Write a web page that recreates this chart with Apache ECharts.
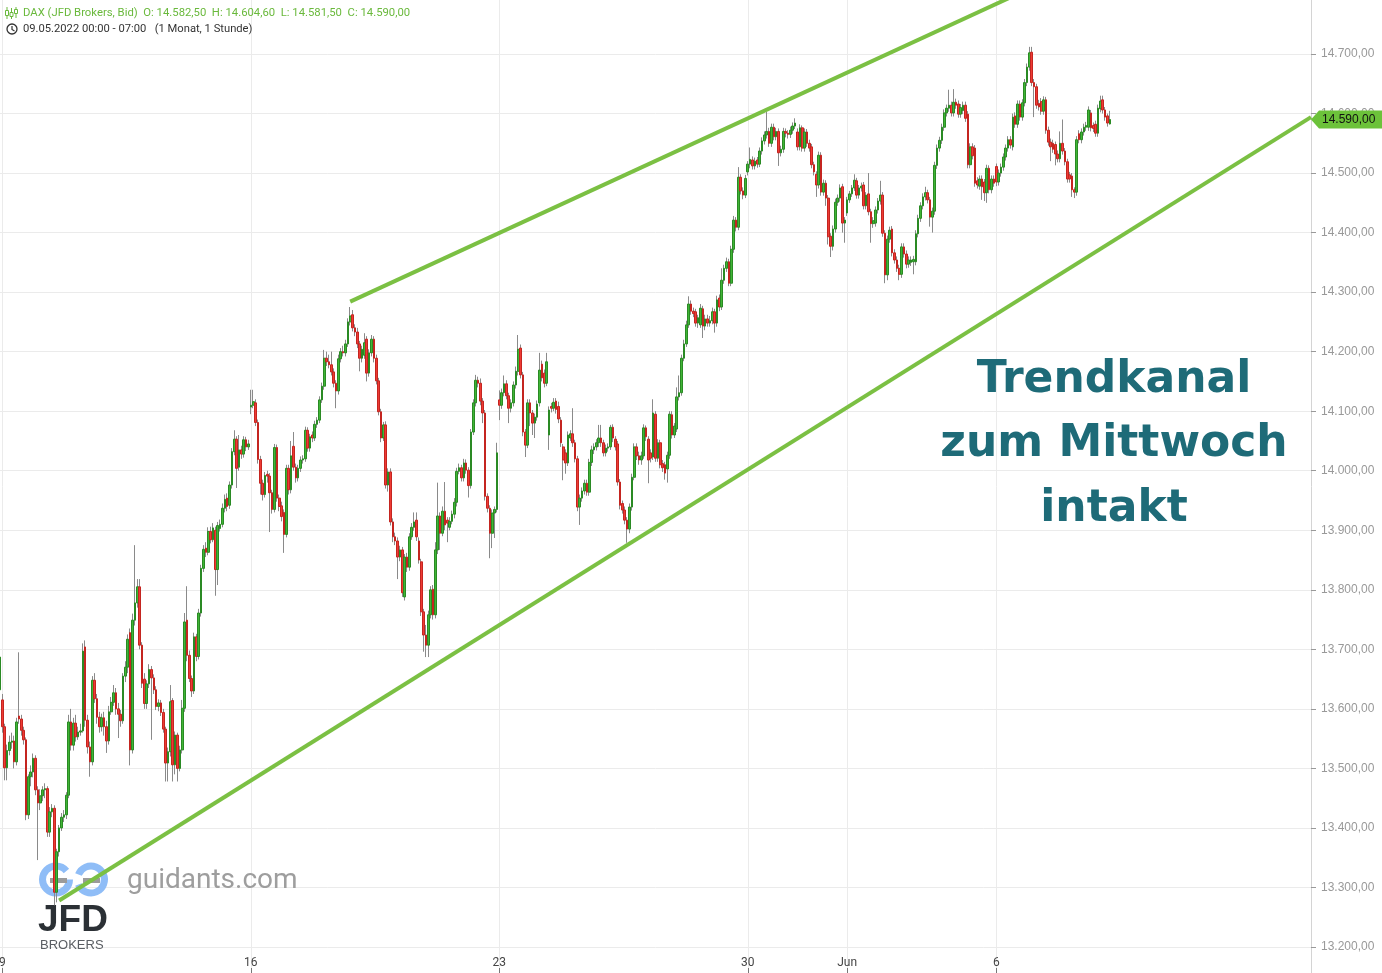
<!DOCTYPE html>
<html><head><meta charset="utf-8">
<script src="https://cdn.jsdelivr.net/npm/echarts@6/dist/echarts.min.js"></script>
<style>html,body{margin:0;padding:0;background:#fff}#c{width:1382px;height:973px}</style>
</head><body><div id="c"></div>
<script>
// ---- DATA: hourly candles [open, close, low, high] ----
// last Friday bar + week of 9 May
const wk0 = [
[13632,13687,13625,13700],[13615,13570,13560,13625],[13570,13501,13480,13575],[13501,13530,13480,13540],[13530,13544,13522,13555],
[13544,13546,13533,13560],[13546,13511,13500,13555],[13511,13578,13505,13585],[13588,13583,13575,13695],[13583,13564,13555,13590],
[13564,13548,13540,13570],[13548,13422,13413,13552],[13422,13486,13415,13490],[13486,13494,13470,13505],[13494,13517,13485,13525],
[13517,13464,13455,13522],[13464,13442,13346,13470],[13442,13454,13430,13465],[13454,13464,13445,13470],[13464,13466,13450,13475],
[13466,13393,13385,13470],[13393,13427,13385,13435],[13427,13433,13418,13440],[13433,13292,13270,13438],[13292,13360,13275,13365],
[13360,13400,13352,13405],[13400,13418,13395,13425],[13418,13422,13410,13430],[13422,13455,13415,13460],[13455,13578,13450,13590],
[13578,13539,13530,13600],[13539,13576,13530,13585],[13576,13553,13545,13590],[13553,13561,13548,13570],[13561,13563,13555,13575],
[13563,13697,13560,13710],[13704,13581,13570,13715],[13581,13536,13525,13590],[13536,13511,13486,13545],[13511,13648,13505,13655],
[13648,13617,13610,13660],[13617,13586,13575,13625],[13586,13570,13560,13595],[13570,13585,13562,13592],[13585,13570,13555,13595],
[13570,13546,13526,13580],[13546,13595,13540,13605],[13595,13611,13590,13620],[13611,13627,13605,13640],[13627,13600,13590,13635],
[13600,13591,13551,13610],[13591,13580,13570,13598],[13580,13655,13575,13660],[13655,13670,13645,13680],[13670,13717,13660,13725],
[13728,13531,13505,13735],[13531,13749,13525,13760],[13749,13778,13740,13875],[13778,13805,13770,13818],
[13805,13707,13700,13818],[13707,13643,13635,13712],[13650,13609,13600,13660],[13609,13642,13600,13648],[13642,13666,13635,13675],
[13666,13652,13548,13672],[13652,13632,13625,13658],[13632,13604,13598,13638],[13604,13610,13596,13616],[13610,13594,13588,13615],
[13594,13566,13560,13600],[13566,13509,13478,13570],[13509,13528,13478,13535],[13528,13612,13520,13640],[13614,13506,13478,13618],
[13506,13556,13490,13562],[13556,13500,13478,13560],[13500,13531,13495,13538],[13531,13601,13525,13615],[13601,13746,13595,13761],
[13749,13690,13680,13806],[13690,13651,13645,13698],[13651,13630,13620,13656],[13630,13721,13625,13728],[13721,13688,13680,13726],
[13688,13761,13683,13768],[13761,13836,13755,13842],[13836,13868,13830,13875],[13870,13863,13855,13880],[13863,13898,13858,13905],
[13898,13884,13878,13906],[13884,13904,13880,13912],[13900,13834,13790,13906],[13834,13908,13808,13914],[13903,13910,13898,13918],
[13910,13937,13905,13945],[13937,13952,13930,13960],[13954,13940,13932,13962],[13942,13976,13936,13982],[13976,14032,13970,14038],
[14032,14053,14026,14068],[14053,14004,13971,14058],[14006,14035,14000,14060],[14035,14028,14020,14042],[14028,14052,14022,14058],
[14052,14040,14033,14057],[14040,14045,14035,14052]
];
// week of 16 May
const wk1 = [
[14107,14110,14095,14136],[14110,14116,14105,14136],[14114,14081,14075,14120],[14081,14019,14012,14086],[14019,13979,13960,14025],
[13979,13960,13950,13985],[13960,13992,13955,13998],[13994,13991,13980,14000],[13991,13963,13897,13996],[13963,13935,13928,13968],
[13935,14039,13930,14045],[14039,13954,13948,14044],[13954,13940,13932,13960],[13941,13923,13915,13948],[13930,13893,13862,13935],
[13893,14004,13888,14010],[14004,13968,13960,14010],[13968,14025,13962,14050],[14041,14006,14000,14065],[14006,13988,13980,14012],
[13988,14004,13982,14010],[14004,14018,13998,14024],[14018,14020,14012,14026],[14020,14068,14015,14074],[14068,14038,14032,14073],
[14038,14057,14032,14062],[14060,14055,14048,14066],[14055,14078,14050,14084],[14078,14085,14072,14090],[14085,14119,14080,14125],
[14119,14142,14114,14148],[14142,14189,14136,14203],[14189,14183,14176,14200],[14183,14178,14172,14195],[14178,14166,14160,14200],
[14166,14147,14140,14172],[14147,14134,14105,14152],[14134,14188,14128,14195],[14188,14200,14182,14206],[14200,14198,14192,14210],
[14198,14213,14192,14220],[14213,14250,14208,14256],[14250,14260,14244,14275],[14262,14240,14234,14270],[14240,14233,14226,14246],
[14233,14213,14206,14240],[14213,14189,14167,14218],[14189,14204,14182,14210],[14194,14215,14188,14231],[14221,14164,14150,14226],
[14164,14198,14158,14204],[14198,14221,14192,14228],[14221,14189,14182,14226],[14189,14151,14145,14195],[14151,14099,14093,14156],
[14099,14055,14048,14104],[14055,14077,14050,14082],[14077,13976,13970,14083],[13976,13998,13965,14004],[13998,13914,13908,14004],
[13914,13889,13880,13920],[13889,13882,13875,13896],[13882,13855,13818,13888],[13855,13867,13848,13874],[13867,13795,13788,13872],
[13788,13855,13782,13860],[13855,13838,13830,13862],[13838,13889,13832,13895],[13889,13905,13884,13912],[13905,13914,13899,13930],
[13917,13889,13882,13930],[13882,13850,13844,13888],[13847,13763,13756,13852],[13763,13724,13696,13768],[13724,13707,13687,13741],
[13707,13758,13687,13765],[13758,13800,13752,13806],[13801,13758,13750,13808],[13758,13867,13752,13880],[13867,13924,13860,13980],
[13924,13895,13867,13930],[13895,13932,13890,13940],[13932,13909,13900,13981],[13917,13912,13880,13922],[13905,13915,13900,13922],
[13915,13927,13910,13933],[13927,13947,13920,13954],[13947,13999,13940,14005],[13999,14005,13994,14012],[14005,13988,13982,14010],
[13988,14013,13982,14020],[14013,14001,13995,14019],[14001,13975,13955,14006],[13975,14065,13970,14070],[14065,14114,14060,14120],
[14114,14152,14108,14161],[14152,14147,14140,14158],[14147,14117,14110,14155],[14117,14097,14080,14122],[14097,13957,13950,14102],
[13957,13937,13930,13962],[13937,13895,13853,13942],[13895,13929,13870,13935],[13929,13935,13887,13940],[13935,14030,13930,14047]
];
// week of 23 May
const wk2 = [
[14119,14110,14085,14135],[14110,14131,14104,14138],[14131,14146,14125,14160],[14146,14126,14120,14152],[14126,14105,14080,14131],
[14105,14114,14098,14120],[14114,14144,14108,14150],[14144,14167,14138,14175],[14167,14204,14160,14228],[14206,14161,14155,14212],
[14161,14065,14058,14166],[14065,14043,14023,14070],[14043,14114,14038,14120],[14114,14097,14075,14120],[14097,14080,14060,14102],
[14080,14090,14055,14096],[14090,14112,14084,14118],[14114,14169,14108,14198],[14179,14156,14150,14185],[14164,14147,14140,14170],
[14147,14183,14142,14198],
[14060,14102,14035,14108],[14108,14105,14098,14114],[14105,14115,14100,14122],[14117,14103,14096,14122],[14108,14087,14080,14116],
[14085,14047,14040,14090],[14040,14018,13984,14045],[14030,14013,13995,14036],[14013,14060,14008,14066],[14055,14062,14050,14068],
[14062,14047,14040,14105],[14047,14020,14014,14052],[14020,13939,13932,14025],[13939,13954,13909,13960],[13954,13966,13948,13972],
[13966,13979,13960,13985],[13979,13964,13958,13985],[13964,14014,13958,14020],[14014,14035,14008,14042],[14035,14040,14028,14046],
[14040,14047,14034,14053],
[14047,14055,14040,14077],[14055,14047,14040,14077],[14047,14030,14024,14052],[14030,14038,14024,14044],[14038,14040,14032,14046],
[14040,14073,14035,14077],[14073,14055,14048,14078],[14053,14040,14034,14058],[14045,13981,13975,14050],[13981,13942,13935,13986],
[13945,13934,13928,13950],[13934,13917,13910,13940],[13917,13902,13879,13922],[13902,13939,13895,13945],[13939,13989,13933,13995],
[13989,14040,13984,14046],[14040,14025,14018,14046],[14025,14018,14010,14032],[14018,14025,14010,14032],[14025,14072,14020,14078],
[14072,14057,14050,14076],
[14053,14018,13979,14058],[14030,14021,14014,14036],[14023,14097,14018,14120],[14095,14021,14015,14100],[14021,14047,14015,14053],
[14047,14010,14004,14052],[14012,14005,13998,14018],[14010,13996,13985,14015],[14003,14026,13980,14032],[14026,14095,14020,14100],
[14094,14060,14054,14100],[14060,14075,14055,14080],[14070,14124,14065,14140],[14124,14131,14118,14160],[14131,14189,14126,14195],
[14189,14213,14184,14220],[14213,14245,14208,14252],[14245,14280,14240,14293],[14280,14268,14262,14286],[14268,14264,14258,14274],
[14267,14248,14242,14272],
[14248,14257,14240,14262],[14245,14273,14240,14280],[14272,14243,14223,14277],[14243,14255,14236,14262],[14255,14248,14242,14262],
[14248,14252,14242,14260],[14252,14267,14246,14274],[14267,14248,14232,14272],[14248,14287,14242,14294],[14290,14275,14268,14296],
[14275,14320,14270,14340],[14320,14340,14314,14346],[14340,14351,14334,14358],[14351,14315,14310,14356],[14315,14372,14310,14378],
[14372,14421,14366,14428],[14421,14409,14402,14426],[14409,14493,14404,14510],[14493,14470,14464,14498],[14470,14463,14456,14476],
[14463,14491,14458,14497]
];
// week of 30 May
const wk3 = [
[14502,14515,14496,14520],[14515,14523,14508,14543],[14522,14512,14506,14528],[14512,14520,14506,14526],[14522,14515,14509,14527],
[14515,14537,14510,14543],[14537,14554,14531,14560],[14554,14564,14548,14570],[14564,14570,14558,14603],[14570,14550,14544,14576],
[14550,14577,14544,14583],[14577,14561,14555,14583],[14561,14570,14555,14576],[14570,14534,14512,14575],[14534,14540,14528,14546],
[14540,14570,14534,14576],[14570,14567,14560,14575],[14567,14565,14558,14572],[14565,14572,14559,14578],[14572,14579,14566,14585],
[14579,14584,14574,14592],
[14569,14544,14538,14575],[14544,14576,14538,14582],[14576,14542,14536,14580],[14542,14569,14536,14575],[14569,14550,14544,14574],
[14550,14542,14536,14556],[14544,14514,14508,14549],[14514,14502,14496,14519],[14498,14480,14460,14503],[14480,14530,14474,14536],
[14530,14468,14462,14535],[14468,14483,14462,14489],[14483,14458,14445,14488],[14458,14393,14380,14463],[14394,14377,14359,14399],
[14377,14406,14370,14412],[14406,14451,14400,14457],[14451,14458,14445,14464],[14458,14475,14452,14481],[14477,14416,14400,14482],
[14416,14421,14383,14426],
[14433,14455,14428,14460],[14455,14465,14450,14470],[14465,14475,14460,14480],[14475,14488,14470,14498],[14487,14463,14457,14492],
[14463,14475,14457,14480],[14475,14478,14469,14484],[14480,14445,14439,14485],[14445,14463,14439,14468],[14465,14435,14429,14500],
[14435,14415,14383,14440],[14415,14420,14408,14426],[14416,14438,14410,14444],[14438,14453,14432,14458],[14453,14463,14447,14487],
[14463,14399,14393,14468],[14399,14329,14315,14404],[14329,14389,14320,14395],[14389,14404,14383,14410],[14406,14366,14360,14411],
[14366,14354,14348,14372],
[14354,14340,14334,14360],[14340,14330,14320,14346],[14330,14376,14324,14382],[14376,14364,14358,14382],[14364,14347,14340,14370],
[14347,14354,14341,14360],[14350,14354,14344,14360],[14351,14355,14330,14361],[14351,14398,14345,14404],[14398,14424,14392,14430],
[14424,14445,14418,14451],[14445,14460,14439,14466],[14460,14467,14454,14477],[14467,14455,14449,14472],[14455,14426,14410,14460],
[14426,14436,14400,14442],[14436,14513,14430,14519],[14513,14542,14507,14548],[14542,14555,14536,14561],[14555,14577,14549,14583],
[14577,14601,14571,14607],
[14601,14609,14595,14615],[14609,14614,14603,14640],[14614,14601,14595,14620],[14601,14619,14595,14641],[14619,14614,14608,14625],
[14616,14599,14593,14622],[14599,14610,14593,14616],[14605,14614,14599,14620],[14614,14592,14586,14620],[14599,14514,14508,14604],
[14514,14544,14508,14550],[14544,14529,14523,14550],[14542,14483,14477,14547],[14487,14480,14474,14493],[14478,14490,14472,14496],
[14490,14477,14455,14496],[14485,14467,14453,14490],[14467,14508,14450,14514],[14508,14472,14466,14513],[14472,14490,14466,14496],
[14490,14483,14477,14496]
];
// 6 - 8 June
const wk4 = [
[14511,14485,14478,14516],[14485,14500,14479,14506],[14500,14510,14494,14516],[14510,14527,14504,14533],[14527,14542,14521,14548],
[14542,14556,14536,14562],[14556,14547,14541,14562],[14544,14594,14538,14600],[14596,14582,14576,14602],[14582,14616,14576,14622],
[14616,14594,14588,14622],[14594,14618,14588,14624],[14618,14652,14612,14658],[14652,14678,14646,14684],[14678,14702,14672,14712],
[14703,14652,14646,14712],[14652,14645,14594,14658],[14645,14614,14608,14650],[14617,14611,14605,14623],[14620,14604,14598,14626],
[14604,14623,14598,14629],
[14623,14572,14566,14628],[14572,14552,14546,14578],[14552,14544,14520,14558],[14550,14540,14534,14556],[14548,14532,14513,14553],
[14532,14524,14518,14538],[14524,14550,14518,14570],[14550,14537,14531,14590],[14537,14519,14513,14542],[14519,14490,14484,14524],
[14497,14490,14484,14502],[14495,14472,14460,14500],[14472,14468,14458,14476],[14468,14556,14462,14562],[14566,14556,14550,14572],
[14556,14569,14550,14575],[14569,14577,14563,14583],[14577,14580,14571,14586],[14577,14606,14571,14612],[14601,14576,14570,14606],
[14580,14575,14569,14585],
[14582,14567,14561,14588],[14567,14609,14561,14615],[14608,14621,14602,14630],[14623,14606,14600,14630],[14606,14594,14588,14611],
[14596,14584,14578,14600],[14582.5,14590,14581.5,14604.6]
];
const dayTickIndex = [1, 106, 211, 316, 358, 421];
const dayTickLabels = ['9', '16', '23', '30', 'Jun', '6'];
const upperTrend = [[148, 14284], [440, 14819]];
const lowerTrend = [[25, 13278], [554, 14594]];
const lastPrice = 14590;
const lastPriceText = '14.590,00';
const headerLine1 = 'DAX (JFD Brokers, Bid)  O: 14.582,50  H: 14.604,60  L: 14.581,50  C: 14.590,00';
const headerLine2 = '09.05.2022 00:00 - 07:00   (1 Monat, 1 Stunde)';
const noteLines = ['Trendkanal', 'zum Mittwoch', 'intakt'];
const SLOTS = 555;

// ---- build ----
const candles = wk0.concat(wk1, wk2, wk3, wk4);
const bodies = candles.map(d => [d[0], d[1], Math.min(d[0], d[1]), Math.max(d[0], d[1])]);
const cats = []; for (let i = 0; i < SLOTS; i++) cats.push('c' + i);
const labelAt = {}; dayTickIndex.forEach((k, j) => labelAt[k] = dayTickLabels[j]);
const isTick = i => labelAt[i] !== undefined;
const fmtDE = v => { const s = String(Math.round(v)); return s.slice(0, -3) + '.' + s.slice(-3) + ',00'; };

const chart = echarts.init(document.getElementById('c'), null, {renderer: 'canvas'});
chart.setOption({
  animation: false,
  backgroundColor: '#ffffff',
  grid: {left: 0, right: 71, top: -5.53, bottom: -33.53, outerBoundsMode: 'none', containLabel: false},
  xAxis: {
    type: 'category', data: cats, boundaryGap: false, offset: -33.53,
    axisLine: {show: false},
    axisTick: {show: true, inside: true, length: 5, interval: (i) => isTick(i), lineStyle: {color: '#777'}},
    axisLabel: {show: true, inside: true, margin: 4, interval: (i) => isTick(i),
      formatter: (v, i) => labelAt[i] || '', color: '#444', fontSize: 12, fontFamily: 'Roboto'},
    splitLine: {show: true, interval: (i) => isTick(i), lineStyle: {color: '#ebebeb', width: 1}}
  },
  yAxis: {
    type: 'value', position: 'right', min: 13100, max: 14800, interval: 100,
    axisLine: {show: true, lineStyle: {color: '#d4d4d4'}},
    axisTick: {show: true, length: 5, lineStyle: {color: '#999'}},
    axisLabel: {margin: 10, color: '#999', fontSize: 12, fontFamily: 'Liberation Sans', formatter: fmtDE},
    splitLine: {show: true, lineStyle: {color: '#ebebeb', width: 1}}
  },
  series: [
    {type: 'candlestick', data: candles, barWidth: 1, z: 2, silent: true, large: false,
     itemStyle: {color: '#8a8a8a', color0: '#8a8a8a', borderColor: '#8a8a8a', borderColor0: '#8a8a8a', borderColorDoji: '#8a8a8a', borderWidth: 1}},
    {type: 'candlestick', data: bodies, barWidth: 2.1, z: 3, silent: true, large: false,
     itemStyle: {color: '#40b536', color0: '#ee3b34', borderColor: '#2a8a24', borderColor0: '#c42520', borderColorDoji: '#2a8a24', borderWidth: 1}},
    {type: 'line', data: upperTrend, symbol: 'none', silent: true, z: 5, clip: true,
     lineStyle: {width: 4, color: '#7bc043'}},
    {type: 'line', data: lowerTrend, symbol: 'none', silent: true, z: 5, clip: true,
     lineStyle: {width: 4, color: '#7bc043'}}
  ]
});

const py = chart.convertToPixel({yAxisIndex: 0}, lastPrice);
const G = '#6ab93c';
const ring = '#8fbdf7';
const NOTE = {align: 'center', verticalAlign: 'middle', fill: '#1e6b78', fontSize: 44, fontWeight: 'bold', fontFamily: 'DejaVu Sans'};
const graphics = [
  // header icon
  {type: 'line', shape: {x1: 7, y1: 7, x2: 7, y2: 19}, style: {stroke: G, lineWidth: 1}, z: 50},
  {type: 'rect', shape: {x: 5.5, y: 10.5, width: 3, height: 5}, style: {fill: '#fff', stroke: G, lineWidth: 1}, z: 51},
  {type: 'line', shape: {x1: 11.5, y1: 8, x2: 11.5, y2: 19}, style: {stroke: G, lineWidth: 1}, z: 50},
  {type: 'rect', shape: {x: 10, y: 12.5, width: 3, height: 4}, style: {fill: '#fff', stroke: G, lineWidth: 1}, z: 51},
  {type: 'line', shape: {x1: 16, y1: 7, x2: 16, y2: 18}, style: {stroke: G, lineWidth: 1}, z: 50},
  {type: 'rect', shape: {x: 14.5, y: 9.5, width: 3, height: 4}, style: {fill: '#fff', stroke: G, lineWidth: 1}, z: 51},
  {type: 'text', style: {text: headerLine1, x: 23, y: 13, verticalAlign: 'middle', fill: G, fontSize: 11.3, fontFamily: 'Roboto'}, z: 50},
  // clock
  {type: 'circle', shape: {cx: 12, cy: 29, r: 5}, style: {fill: 'none', stroke: '#333', lineWidth: 1.3}, z: 50},
  {type: 'polyline', shape: {points: [[12, 26], [12, 29.5], [14.5, 31]]}, style: {fill: 'none', stroke: '#333', lineWidth: 1.2}, z: 50},
  {type: 'text', style: {text: headerLine2, x: 23, y: 29, verticalAlign: 'middle', fill: '#333', fontSize: 11.2, fontFamily: 'Roboto'}, z: 50},
  // watermark
  {type: 'arc', shape: {cx: 56, cy: 879.5, r: 13.5, startAngle: 0, endAngle: Math.PI * 1.78, clockwise: true}, style: {fill: 'none', stroke: ring, lineWidth: 7}, z: 1},
  {type: 'arc', shape: {cx: 91, cy: 879.5, r: 13.5, startAngle: Math.PI * 1.12, endAngle: Math.PI * 2.88, clockwise: true}, style: {fill: 'none', stroke: ring, lineWidth: 7}, z: 1},
  {type: 'rect', shape: {x: 50, y: 878, width: 17, height: 5}, style: {fill: '#9b9b9b'}, z: 1},
  {type: 'rect', shape: {x: 83, y: 878, width: 17, height: 5}, style: {fill: '#9b9b9b'}, z: 1},
  {type: 'text', style: {text: 'guidants.com', x: 127, y: 881, verticalAlign: 'middle', fill: '#9e9e9e', fontSize: 28, fontFamily: 'Roboto'}, z: 1},
  {type: 'text', style: {text: 'JFD', x: 38, y: 921, verticalAlign: 'middle', fill: '#2b3035', fontSize: 37, fontWeight: 'bold', fontFamily: 'Liberation Sans'}, z: 1},
  {type: 'text', style: {text: 'BROKERS', x: 40, y: 945.5, verticalAlign: 'middle', fill: '#5a5e63', fontSize: 13, fontFamily: 'Liberation Sans'}, z: 1},
  // annotation
  {type: 'text', style: Object.assign({text: noteLines[0], x: 1114, y: 381}, NOTE), z: 60},
  {type: 'text', style: Object.assign({text: noteLines[1], x: 1114, y: 445}, NOTE), z: 60},
  {type: 'text', style: Object.assign({text: noteLines[2], x: 1114, y: 510}, NOTE), z: 60},
  // last price tag
  {type: 'polygon', shape: {points: [[1311, py], [1319, py - 9], [1382, py - 9], [1382, py + 9], [1319, py + 9]]}, style: {fill: '#6cc23a'}, z: 70},
  {type: 'text', style: {text: lastPriceText, x: 1322, y: py + 0.5, verticalAlign: 'middle', fill: '#111', fontSize: 12, fontFamily: 'Liberation Sans'}, z: 71}
];
chart.setOption({graphic: graphics});
</script>
</body></html>
